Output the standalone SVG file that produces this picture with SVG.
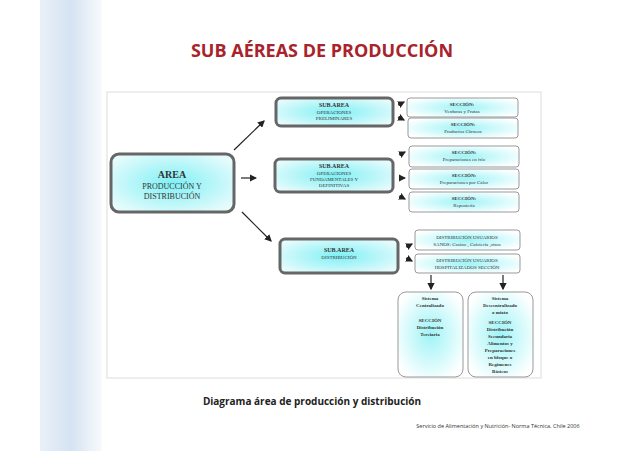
<svg xmlns="http://www.w3.org/2000/svg" width="638" height="451" viewBox="0 0 638 451">
<defs>
<radialGradient id="cy" cx="50%" cy="50%" r="60%"><stop offset="0" stop-color="#7ff0f5"/><stop offset="1" stop-color="#e6fbfc"/></radialGradient>
<radialGradient id="cy2" cx="50%" cy="50%" r="60%"><stop offset="0" stop-color="#9ff4f7"/><stop offset="1" stop-color="#ffffff"/></radialGradient>
<linearGradient id="side" x1="0" x2="1"><stop offset="0" stop-color="#dbe7f3"/><stop offset="0.5" stop-color="#b9d0ea"/><stop offset="1" stop-color="#f3f7fb"/></linearGradient>
<marker id="ah" markerWidth="6" markerHeight="6" refX="5" refY="3" orient="auto"><path d="M0,0 L6,3 L0,6 z" fill="#222"/></marker>
<style>
.big{fill:url(#cy);stroke:#666;stroke-width:3}
.sec{fill:url(#cy2);stroke:#999;stroke-width:1}
.t{font-family:"Liberation Serif",serif;fill:#333;text-anchor:middle}
.c{stroke:#222;stroke-width:1.2;fill:none;marker-end:url(#ah)}
</style>
</defs>
<rect width="638" height="451" fill="#fff"/>
<rect x="40" y="0" width="62" height="451" fill="url(#side)" opacity="0.6"/>
<text x="322" y="57" font-family="'Open Sans','Liberation Sans',sans-serif" font-weight="bold" font-size="18" fill="#a8232b" text-anchor="middle">SUB AÉREAS DE PRODUCCIÓN</text>
<rect x="107" y="92" width="434" height="286" fill="#fff" stroke="#ddd"/>
<g id="area"><rect class="big" x="111" y="154" width="123" height="58" rx="8"/>
<text class="t" x="172" y="178" font-size="10" font-weight="bold">AREA</text>
<text class="t" x="172" y="189" font-size="8">PRODUCCIÓN Y</text><text class="t" x="172" y="199" font-size="8">DISTRIBUCIÓN</text></g>
<g id="sub1"><rect class="big" x="276" y="98" width="117" height="28" rx="5"/>
<text class="t" x="334" y="107" font-size="6" font-weight="bold">SUB.AREA</text><text class="t" x="334" y="114" font-size="5">OPERACIONES</text><text class="t" x="334" y="120" font-size="5">PRELIMINARES</text></g>
<g id="sub2"><rect class="big" x="275" y="159" width="118" height="33" rx="5"/>
<text class="t" x="334" y="168" font-size="6" font-weight="bold">SUB.AREA</text><text class="t" x="334" y="175" font-size="5">OPERACIONES</text><text class="t" x="334" y="181" font-size="5">FUNDAMENTALES Y</text><text class="t" x="334" y="187" font-size="5">DEFINITIVAS</text></g>
<g id="sub3"><rect class="big" x="280" y="239" width="118" height="34" rx="5"/>
<text class="t" x="339" y="252" font-size="6" font-weight="bold">SUB.AREA</text><text class="t" x="339" y="259" font-size="5">DISTRIBUCIÓN</text></g>
<g id="s1"><rect class="sec" x="407" y="98" width="111" height="19" rx="3"/><text class="t" x="462" y="106" font-size="5" font-weight="bold">SECCIÓN:</text><text class="t" x="462" y="113" font-size="5">Verduras y Frutas</text></g>
<g id="s2"><rect class="sec" x="408" y="118" width="110" height="20" rx="3"/><text class="t" x="463" y="126" font-size="5" font-weight="bold">SECCIÓN:</text><text class="t" x="463" y="133" font-size="5">Productos Cárneos</text></g>
<g id="s3"><rect class="sec" x="409" y="146" width="110" height="21" rx="3"/><text class="t" x="464" y="154" font-size="5" font-weight="bold">SECCIÓN:</text><text class="t" x="464" y="161" font-size="5">Preparaciones en frío</text></g>
<g id="s4"><rect class="sec" x="409" y="169" width="110" height="20" rx="3"/><text class="t" x="464" y="177" font-size="5" font-weight="bold">SECCIÓN:</text><text class="t" x="464" y="184" font-size="5">Preparaciones por Calor</text></g>
<g id="s5"><rect class="sec" x="409" y="192" width="110" height="20" rx="3"/><text class="t" x="464" y="200" font-size="5" font-weight="bold">SECCIÓN:</text><text class="t" x="464" y="207" font-size="5">Repostería</text></g>
<g id="d1"><rect class="sec" x="415" y="230" width="105" height="20" rx="3"/><text class="t" x="467" y="239" font-size="5">DISTRIBUCIÓN USUARIOS</text><text class="t" x="467" y="246" font-size="5">SANOS:  Casino , Cafetería ,otros</text></g>
<g id="d2"><rect class="sec" x="415" y="254" width="105" height="19" rx="3"/><text class="t" x="467" y="262" font-size="5">DISTRIBUCIÓN USUARIOS</text><text class="t" x="467" y="269" font-size="5">HOSPITALIZADOS SECCIÓN</text></g>
<g id="b1"><rect class="sec" x="398" y="292" width="65" height="85" rx="8"/>
<text class="t" font-size="5" font-weight="bold"><tspan x="430" y="300">Sistema</tspan><tspan x="430" y="307">Centralizado</tspan><tspan x="430" y="322">SECCIÓN</tspan><tspan x="430" y="329">Distribución</tspan><tspan x="430" y="336">Terciaria</tspan></text></g>
<g id="b2"><rect class="sec" x="468" y="292" width="65" height="85" rx="8"/>
<text class="t" font-size="5" font-weight="bold"><tspan x="500" y="300">Sistema</tspan><tspan x="500" y="307">Descentralizado</tspan><tspan x="500" y="314">o mixto</tspan><tspan x="500" y="324">SECCIÓN</tspan><tspan x="500" y="331">Distribución</tspan><tspan x="500" y="338">Secundaria</tspan><tspan x="500" y="345">Alimentos y</tspan><tspan x="500" y="352">Preparaciones</tspan><tspan x="500" y="359">en bloque o</tspan><tspan x="500" y="366">Regímenes</tspan><tspan x="500" y="373">Básicos</tspan></text></g>
<g id="connectors">
<line class="c" x1="234" y1="150" x2="264" y2="121"/>
<line class="c" x1="241" y1="178" x2="256" y2="178"/>
<line class="c" x1="242" y1="212" x2="271" y2="241"/>
<line class="c" x1="398" y1="105" x2="404" y2="102"/>
<line class="c" x1="398" y1="117" x2="404" y2="120"/>
<line class="c" x1="399" y1="155" x2="405" y2="152"/>
<line class="c" x1="399" y1="178" x2="405" y2="178"/>
<line class="c" x1="399" y1="196" x2="405" y2="199"/>
<line class="c" x1="406" y1="247" x2="412" y2="244"/>
<line class="c" x1="406" y1="258" x2="412" y2="261"/>
<line class="c" x1="431" y1="275" x2="431" y2="289"/>
<line class="c" x1="503" y1="275" x2="503" y2="289"/>
</g>
<text x="312" y="405" font-family="'Open Sans','Liberation Sans',sans-serif" font-weight="bold" font-size="10" fill="#222" text-anchor="middle">Diagrama área de producción y distribución</text>
<text x="498" y="428" font-family="'Open Sans','Liberation Sans',sans-serif" font-size="5.5" fill="#333" text-anchor="middle">Servicio de Alimentación y Nutrición- Norma Técnica, Chile 2006</text>
</svg>
